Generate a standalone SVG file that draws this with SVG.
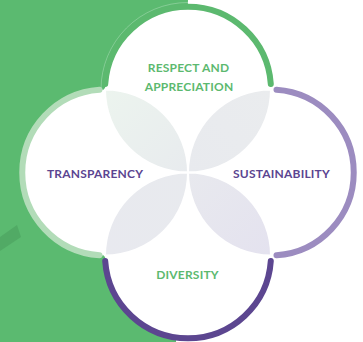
<svg xmlns="http://www.w3.org/2000/svg" width="363" height="342" viewBox="0 0 363 342">
  <defs>
    <linearGradient id="gTL" x1="0" y1="0" x2="1" y2="1">
      <stop offset="0" stop-color="#ecf4ee"/>
      <stop offset="1" stop-color="#e8ebee"/>
    </linearGradient>
    <linearGradient id="gTR" x1="1" y1="0" x2="0" y2="1">
      <stop offset="0" stop-color="#eaecee"/>
      <stop offset="1" stop-color="#e8eaee"/>
    </linearGradient>
    <linearGradient id="gBL" x1="0" y1="1" x2="1" y2="0">
      <stop offset="0" stop-color="#e8e9ef"/>
      <stop offset="1" stop-color="#e8eaee"/>
    </linearGradient>
    <linearGradient id="gBR" x1="0" y1="0" x2="1" y2="1">
      <stop offset="0" stop-color="#e8e9ee"/>
      <stop offset="1" stop-color="#e4e2ef"/>
    </linearGradient>
    <style>
      .disc { fill: #ffffff; }
      .petal { stroke: #ffffff; stroke-width: 2; }
      .arc { fill: none; stroke-width: 6; stroke-linecap: round; }
      .lbl { font-family: Lato, "Open Sans", sans-serif; font-weight: 700; font-size: 12px; text-anchor: middle; letter-spacing: 0.2px; }
      .green { fill: #5cb96f; }
      .purple { fill: #5b4591; }
    </style>
  </defs>

  <!-- background -->
  <rect width="363" height="342" fill="#ffffff"/>
  <polygon points="0,0 188,0 176,342 0,342" fill="#5bba70"/>
  <polygon points="0,237 17,225 21,237 0,251" fill="#51aa65"/>
  <circle cx="188" cy="89.5" r="87" fill="none" stroke="#ffffff" stroke-opacity="0.25" stroke-width="1"/>

  <!-- white discs -->
  <g id="discs">
    <circle class="disc" cx="188" cy="89.5" r="83"/>
    <circle class="disc" cx="271" cy="172.5" r="83"/>
    <circle class="disc" cx="188" cy="255.5" r="83"/>
    <circle class="disc" cx="105" cy="172.5" r="83"/>
  </g>

  <!-- petals -->
  <g id="petals">
    <path class="petal" fill="url(#gTL)" d="M105,89.5 A83,83 0 0 0 188,172.5 A83,83 0 0 0 105,89.5 Z"/>
    <path class="petal" fill="url(#gTR)" d="M188,172.5 A83,83 0 0 0 271,89.5 A83,83 0 0 0 188,172.5 Z"/>
    <path class="petal" fill="url(#gBR)" d="M188,172.5 A83,83 0 0 0 271,255.5 A83,83 0 0 0 188,172.5 Z"/>
    <path class="petal" fill="url(#gBL)" d="M105,255.5 A83,83 0 0 0 188,172.5 A83,83 0 0 0 105,255.5 Z"/>
  </g>

  <!-- nodes -->
  <g id="node-respect">
    <path class="arc" stroke="#5cb96f" d="M105.2,84.0 A83,83 0 0 1 270.8,84.0"/>
    <text class="lbl green" x="188.5" y="72">RESPECT AND</text>
    <text class="lbl green" x="189" y="91">APPRECIATION</text>
  </g>
  <g id="node-sustainability">
    <path class="arc" stroke="#9c8cc0" d="M276.5,89.7 A83,83 0 0 1 276.5,255.3"/>
    <text class="lbl purple" x="281.5" y="178">SUSTAINABILITY</text>
  </g>
  <g id="node-diversity">
    <path class="arc" stroke="#5c4690" d="M270.8,261.0 A83,83 0 0 1 105.2,261.0"/>
    <text class="lbl green" x="187.5" y="279">DIVERSITY</text>
  </g>
  <g id="node-transparency">
    <path class="arc" stroke="#b2dcb8" d="M99.5,255.3 A83,83 0 0 1 99.5,89.7"/>
    <text class="lbl purple" x="95" y="178">TRANSPARENCY</text>
  </g>
  <g id="connectors"/>
</svg>
